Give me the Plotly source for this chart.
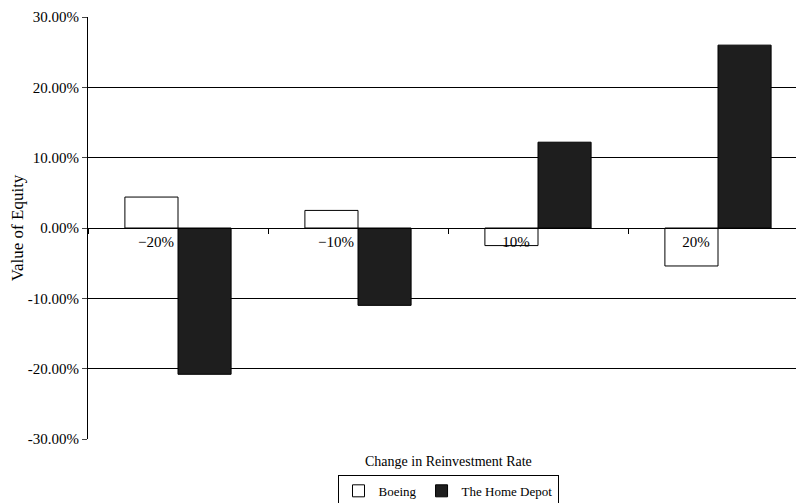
import plotly.graph_objects as go

categories = ["\u221220%", "\u221210%", "10%", "20%"]
boeing = [4.4, 2.5, -2.5, -5.4]
home_depot = [-20.8, -11.0, 12.2, 26.0]
yticks = [-30, -20, -10, 0, 10, 20, 30]

fig = go.Figure()
fig.add_bar(x=categories, y=boeing, name="Boeing", marker=dict(color="white", line=dict(color="black", width=1)))
fig.add_bar(x=categories, y=home_depot, name="The Home Depot", marker=dict(color="#1e1e1e", line=dict(color="black", width=1)))

fig.update_layout(
    width=804, height=503, plot_bgcolor="white", paper_bgcolor="white",
    margin=dict(l=80, r=4, t=9, b=62),
    font=dict(family="Liberation Serif", size=14, color="black"),
    barmode="group", bargap=0.41, bargroupgap=0,
    legend=dict(orientation="h", x=0.5, xanchor="center", y=-0.085, yanchor="top",
                bordercolor="black", borderwidth=1, font=dict(size=13),
                itemwidth=30, tracegroupgap=0),
    xaxis=dict(anchor="free", position=0.5, showline=True, linecolor="black",
               ticks="outside", tickson="boundaries", ticklen=5, tickcolor="black",
               showgrid=False, automargin=False, ticklabelshift=-22,
               tickfont=dict(size=15)),
    yaxis=dict(range=[-30, 30], tickvals=yticks,
               ticktext=[f"{v:.2f}%" for v in yticks],
               showgrid=True, gridcolor="black", gridwidth=1, zeroline=False,
               showline=True, linecolor="black", ticks="outside", ticklen=5,
               automargin=False, tickfont=dict(size=15),
               title=dict(text="Value of Equity", standoff=2)),
    annotations=[dict(text="Change in Reinvestment Rate", x=0.5, xref="paper",
                      y=-0.03, yref="paper", yanchor="top", showarrow=False,
                      font=dict(size=14))],
)
fig.write_html("out.html")
